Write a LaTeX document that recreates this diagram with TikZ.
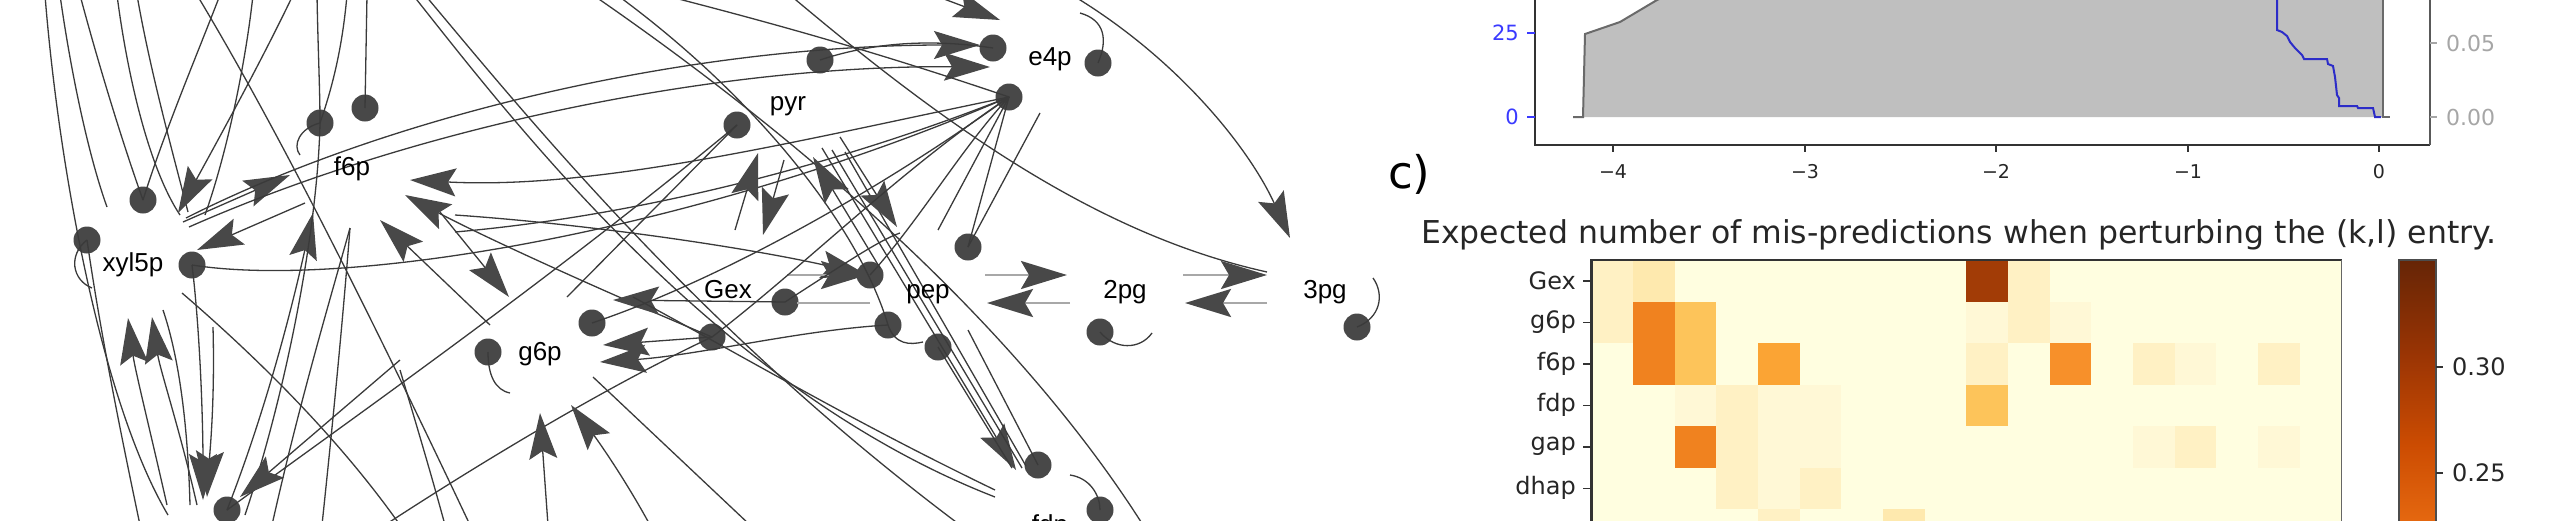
\documentclass[tikz,border=0pt]{standalone}
\usepackage{fontspec}
\setmainfont{Liberation Sans}
\newfontfamily\djv{DejaVu Sans}
\usetikzlibrary{arrows.meta}
\definecolor{edgec}{HTML}{3A3A3A}
\definecolor{metc}{HTML}{484848}
\definecolor{glc}{HTML}{A8A8A8}
\definecolor{fillg}{HTML}{BFBFBF}
\definecolor{fille}{HTML}{6A6A6A}
\definecolor{bluel}{HTML}{2C2CC8}
\definecolor{bluet}{HTML}{3A3AFF}
\definecolor{grayt}{HTML}{A6A6A6}
\definecolor{hbg}{HTML}{FFFEE0}
\definecolor{hpa}{HTML}{FFF8D6}
\definecolor{hpb}{HTML}{FFF1C4}
\definecolor{hpc}{HTML}{FEE9AE}
\definecolor{hlo}{HTML}{FDC45A}
\definecolor{hmid}{HTML}{FBA434}
\definecolor{horg}{HTML}{F0821F}
\definecolor{horgb}{HTML}{F7902A}
\definecolor{hdark}{HTML}{A23C06}
\definecolor{cba}{HTML}{662506}
\definecolor{cbb}{HTML}{993404}
\definecolor{cbc}{HTML}{CC4C02}
\definecolor{cbd}{HTML}{E66910}
\newcommand\hcell[3]{\fill[#3] ({1591.4+41.67*#1},{260+41.5*#2}) rectangle ++(41.67,41.5);}
\begin{document}
\begin{tikzpicture}[x=1pt,y=-1pt,
  edge/.style={draw=edgec, line width=1.3pt},
  arr/.style={edge, -{Stealth[length=46pt,width=28pt,inset=8pt,color=metc]}},
  gl/.style={draw=glc, line width=2.8pt},
  garr/.style={gl, -{Stealth[length=46pt,width=28pt,inset=8pt,color=metc]}},
  met/.style={circle, fill=metc, minimum size=27pt, inner sep=0pt},
  lab/.style={font=\fontsize{26}{26}\selectfont, inner sep=0pt, anchor=base},
  tk/.style={font=\djv\fontsize{19}{19}\selectfont, inner sep=0pt, text=black!85},
  hl/.style={font=\djv\fontsize{24}{24}\selectfont, inner sep=0pt, text=black!85}
]
\useasboundingbox (0,0) rectangle (2560,520);
\clip (0,0) rectangle (2560,520);

% ---------------- network: metabolite dots ----------------
\node[met] (c1) at (143,200) {};
\node[met] (c2) at (87,240) {};
\node[met] (c3) at (192,265) {};
\node[met] (c4) at (320,123) {};
\node[met] (c5) at (365,108) {};
\node[met] (c6) at (227,510) {};
\node[met] (c7) at (820,60) {};
\node[met] (c8) at (737,125) {};
\node[met] (c9) at (785,302) {};
\node[met] (c10) at (870,275) {};
\node[met] (c11) at (712,337) {};
\node[met] (c12) at (888,325) {};
\node[met] (c13) at (488,352) {};
\node[met] (c14) at (592,323) {};
\node[met] (c15) at (993,48) {};
\node[met] (c16) at (1098,63) {};
\node[met] (c17) at (1009,97) {};
\node[met] (c18) at (968,247) {};
\node[met] (c19) at (938,347) {};
\node[met] (c20) at (1100,332) {};
\node[met] (c21) at (1357,327) {};
\node[met] (c22) at (1038,465) {};
\node[met] (c23) at (1100,510) {};

% ---------------- network: edges ----------------
\draw[edge] (45,-5) .. controls (58,160) and (100,400) .. (168,515);
\draw[edge] (60,-5) .. controls (72,80) and (90,160) .. (107,207);
\draw[edge] (80,-5) .. controls (100,70) and (125,150) .. (c1.center);
\draw[edge] (117,-5) .. controls (128,80) and (150,170) .. (180,215);
\draw[edge] (137,-5) .. controls (150,70) and (172,150) .. (188,212);
\draw[edge] (220,-5) .. controls (195,60) and (165,130) .. (c1.center);
\draw[edge] (197,-5) .. controls (260,100) and (340,250) .. (470,525);
\draw[edge] (253,-5) .. controls (246,60) and (228,150) .. (205,215);
\draw[arr] (293,-5) .. controls (262,60) and (218,140) .. (178,213);
\draw[edge] (317,-5) .. controls (318,50) and (320,90) .. (c4.center);
\draw[edge] (347,-5) .. controls (343,40) and (335,80) .. (c4.center);
\draw[edge] (367,-5) -- (c5.center);
\draw[arr] (183,222) -- (290,175);
\draw[arr] (305,203) -- (197,250);
\draw[arr] (186,218) .. controls (400,110) and (700,45) .. (980,45);
\draw[arr] (189,227) .. controls (420,125) and (720,65) .. (990,67);
\draw[edge] (c3.center) .. controls (350,290) and (700,230) .. (c17.center);
\draw[arr] (455,215) .. controls (600,225) and (760,250) .. (867,275);
\draw[arr] (c17.center) .. controls (800,140) and (600,190) .. (410,180);
\draw[edge] (455,232) .. controls (650,215) and (850,160) .. (c17.center);
\draw[arr] (c11.center) .. controls (600,290) and (480,235) .. (405,195);
\draw[arr] (490,325) -- (380,220);
\draw[arr] (440,212) -- (509,297);
\draw[arr] (c6.center) .. controls (270,400) and (296,290) .. (313,213);
\draw[edge] (c4.center) .. controls (318,220) and (290,380) .. (245,515);
\draw[edge] (350,228) .. controls (342,330) and (332,430) .. (322,525);
\draw[edge] (c6.center) .. controls (350,420) and (550,280) .. (c8.center);
\draw[edge] (c8.center) -- (567,297);
\draw[arr] (167,505) .. controls (150,430) and (135,370) .. (128,318);
\draw[arr] (197,505) .. controls (180,430) and (160,370) .. (152,317);
\draw[edge] (163,310) .. controls (180,360) and (188,430) .. (190,505);
\draw[arr] (c3.center) .. controls (200,330) and (203,420) .. (203,500);
\draw[arr] (213,327) .. controls (215,400) and (210,450) .. (207,497);
\draw[edge] (182,293) .. controls (260,360) and (340,440) .. (400,525);
\draw[arr] (400,360) -- (240,497);
\draw[edge] (272,525) .. controls (300,400) and (330,300) .. (350,228);
\draw[edge] (c2.center) .. controls (100,330) and (120,430) .. (140,525);
% middle
\draw[edge] (413,-5) .. controls (520,130) and (720,390) .. (995,497);
\draw[edge] (425,-5) .. controls (530,120) and (700,330) .. (960,525);
\draw[edge] (593,-5) .. controls (760,110) and (1000,300) .. (1143,525);
\draw[edge] (617,-5) .. controls (760,100) and (860,230) .. (c12.center);
\draw[edge] (663,-5) .. controls (800,30) and (900,60) .. (c17.center);
\draw[edge] (790,-5) .. controls (950,130) and (1100,235) .. (1267,272);
\draw[arr] (1072,-5) .. controls (1180,60) and (1250,150) .. (1290,238);
\draw[arr] (880,-25) -- (1000,20);
\draw[edge] (c7.center) .. controls (880,40) and (940,40) .. (c15.center);
\draw[edge] (c17.center) -- (938,230);
\draw[edge] (1040,113) -- (c18.center);
\draw[edge] (c17.center) -- (c18.center);
\draw[edge] (c17.center) .. controls (960,150) and (920,220) .. (c10.center);
\draw[arr] (735,230) -- (758,153);
\draw[arr] (784,160) -- (763,235);
\draw[arr] (880,268) -- (813,157);
\draw[arr] (822,148) -- (1016,470);
\draw[edge] (832,150) -- (1022,468);
\draw[edge] (845,152) -- (1026,466);
\draw[arr] (840,137) -- (897,227);
\draw[garr] (787,275) -- (867,275);
\draw[gl] (797,303) -- (870,303);
\draw[arr] (c9.center) -- (613,300);
\draw[edge] (c14.center) .. controls (720,280) and (880,190) .. (c17.center);
\draw[arr] (c11.center) -- (603,345);
\draw[arr] (c12.center) .. controls (800,330) and (700,355) .. (600,362);
\draw[edge] (385,525) .. controls (500,450) and (620,380) .. (c11.center);
\draw[edge] (c11.center) .. controls (800,270) and (900,170) .. (c17.center);
\draw[edge] (593,377) -- (750,525);
\draw[edge] (633,297) .. controls (750,360) and (850,420) .. (995,490);
\draw[arr] (548,525) -- (540,413);
\draw[arr] (650,525) .. controls (620,470) and (590,430) .. (571,405);
\draw[edge] (400,370) .. controls (415,420) and (430,470) .. (445,525);
\draw[edge] (c22.center) -- (968,330);
\draw[edge] (c19.center) -- (1012,468);
\draw[edge] (c9.center) .. controls (850,260) and (880,240) .. (900,233);
% pep - 2pg - 3pg
\draw[garr] (985,275) -- (1067,275);
\draw[garr] (1070,303) -- (987,303);
\draw[garr] (1183,275) -- (1267,275);
\draw[garr] (1267,303) -- (1185,303);
% self loops
\draw[edge] (c2.center) .. controls (68,255) and (72,280) .. (92,288);
\draw[edge] (c4.center) .. controls (300,128) and (292,145) .. (300,155);
\draw[edge] (c13.center) .. controls (488,375) and (495,390) .. (510,393);
\draw[edge] (c12.center) .. controls (895,345) and (910,345) .. (923,342);
\draw[edge] (1080,13) .. controls (1105,20) and (1108,40) .. (c16.center);
\draw[edge] (c20.center) .. controls (1115,350) and (1140,350) .. (1152,333);
\draw[edge] (c21.center) .. controls (1380,318) and (1385,295) .. (1373,278);
\draw[edge] (1070,475) .. controls (1090,478) and (1100,495) .. (c23.center);

% ---------------- network: labels ----------------
\node[lab] (lxyl) at (133,271) {xyl5p};
\node[lab] (lf6p) at (352,175) {f6p};
\node[lab] (lg6p) at (540,360) {g6p};
\node[lab] (lpyr) at (788,110) {pyr};
\node[lab] (lgex) at (728,298) {Gex};
\node[lab] (lpep) at (928,298) {pep};
\node[lab] (le4p) at (1050,65) {e4p};
\node[lab] (l2pg) at (1125,298) {2pg};
\node[lab] (l3pg) at (1325,298) {3pg};
\node[lab] (lfdp) at (1050,533) {fdp};

% ---------------- upper right plot ----------------
\fill[fillg] (1573,117) -- (1583,117) -- (1585,34) -- (1620,22) -- (1657,0) -- (1680,-10) -- (2383,-10) -- (2383,117) -- cycle;
\draw[fille, line width=2pt] (1573,117) -- (1583,117) -- (1585,34) -- (1620,22) -- (1657,0) -- (1680,-10);
\draw[fille, line width=2pt] (2383,-10) -- (2383,117) -- (2390,117);
\draw[bluel, line width=2pt] (2277,-5) -- (2277,30) -- (2282,32) -- (2287,36) -- (2290,42) -- (2295,48) -- (2302,55) -- (2304,59) -- (2327,59) -- (2328,64) -- (2333,66) -- (2335,77) -- (2337,95) -- (2339,98) -- (2339,106) -- (2357,106) -- (2358,108) -- (2373,108) -- (2375,117) -- (2381,117);
\draw[black!80, line width=2.4pt] (1535,-5) -- (1535,145) -- (2430,145);
\draw[black!65, line width=2.4pt] (2430,145) -- (2430,-5);
\foreach \xv/\xl in {1613/{−4},1805/{−3},1996/{−2},2188/{−1},2379/{0}} {
  \draw[black!80, line width=1.5pt] (\xv,145) -- (\xv,152);
  \node[tk, anchor=base] at (\xv,178) {\xl};
}
\draw[bluet, line width=1.5pt] (1527,33) -- (1535,33);
\draw[bluet, line width=1.5pt] (1527,117) -- (1535,117);
\node[anchor=east, inner sep=0pt, font=\djv\fontsize{21}{21}\selectfont, text=bluet] at (1519,33) {25};
\node[anchor=east, inner sep=0pt, font=\djv\fontsize{21}{21}\selectfont, text=bluet] at (1519,117) {0};
\draw[grayt, line width=1.5pt] (2430,43) -- (2437,43);
\draw[grayt, line width=1.5pt] (2430,117) -- (2437,117);
\node[anchor=west, inner sep=0pt, font=\djv\fontsize{22}{22}\selectfont, text=grayt] at (2446,43) {0.05};
\node[anchor=west, inner sep=0pt, font=\djv\fontsize{22}{22}\selectfont, text=grayt] at (2446,117) {0.00};

\node[anchor=base west, inner sep=0pt, font=\djv\fontsize{45}{45}\selectfont] at (1388,188) {c)};

% ---------------- heatmap ----------------
\node[anchor=base west, inner sep=0pt, font=\djv\fontsize{31.5}{31.5}\selectfont, text=black!85] at (1421,243) {Expected number of mis-predictions when perturbing the (k,l) entry.};
\fill[hbg] (1591.4,260) rectangle (2341.5,525);
\hcell{0}{0}{hpb} \hcell{1}{0}{hpc} \hcell{9}{0}{hdark} \hcell{10}{0}{hpb}
\hcell{0}{1}{hpb} \hcell{1}{1}{horg} \hcell{2}{1}{hlo} \hcell{9}{1}{hpa} \hcell{10}{1}{hpb} \hcell{11}{1}{hpa}
\hcell{1}{2}{horg} \hcell{2}{2}{hlo} \hcell{4}{2}{hmid} \hcell{9}{2}{hpb} \hcell{11}{2}{horgb} \hcell{13}{2}{hpb} \hcell{14}{2}{hpa} \hcell{16}{2}{hpb}
\hcell{2}{3}{hpa} \hcell{3}{3}{hpb} \hcell{4}{3}{hpa} \hcell{5}{3}{hpa} \hcell{9}{3}{hlo}
\hcell{2}{4}{horg} \hcell{3}{4}{hpb} \hcell{4}{4}{hpa} \hcell{5}{4}{hpa} \hcell{13}{4}{hpa} \hcell{14}{4}{hpb} \hcell{16}{4}{hpa}
\hcell{3}{5}{hpb} \hcell{4}{5}{hpa} \hcell{5}{5}{hpb}
\hcell{4}{6}{hpb} \hcell{7}{6}{hpc}
\draw[black!80, line width=2.2pt] (1591.4,525) -- (1591.4,260) -- (2341.5,260);
\draw[black!60, line width=1.6pt] (2341.5,260) -- (2341.5,525);
\foreach \i/\nm in {0/Gex,1/g6p,2/f6p,3/fdp,4/gap,5/dhap} {
  \draw[black!80, line width=1.5pt] (1583,{280.75+41.5*\i}) -- (1591.4,{280.75+41.5*\i});
  \node[hl, anchor=east] at (1576,{280.75+41.5*\i}) {\nm};
}
% colorbar
\shade[top color=cba, bottom color=cbb] (2399,260) rectangle (2436,353);
\shade[top color=cbb, bottom color=cbc] (2399,353) rectangle (2436,445);
\shade[top color=cbc, bottom color=cbd] (2399,445) rectangle (2436,525);
\draw[black!70, line width=1.2pt] (2399,525) -- (2399,260) -- (2436,260) -- (2436,525);
\draw[black!80, line width=1.5pt] (2436,367) -- (2443,367);
\draw[black!80, line width=1.5pt] (2436,473) -- (2443,473);
\node[hl, anchor=west] at (2452,367) {0.30};
\node[hl, anchor=west] at (2452,473) {0.25};
\end{tikzpicture}
\end{document}
